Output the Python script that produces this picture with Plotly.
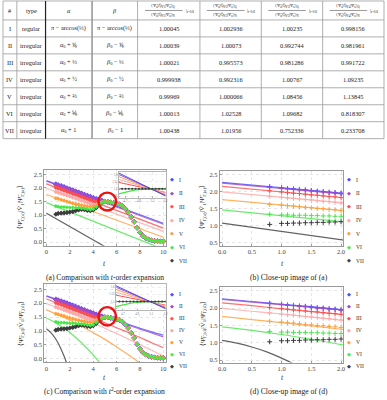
import plotly.graph_objects as go

W, H = 387, 400
SERIF = "Liberation Serif"

# ---------------- table data ----------------
row_ids = ["I", "II", "III", "IV", "V", "VI", "VII"]
row_types = ["regular", "irregular", "irregular", "irregular", "irregular", "irregular", "irregular"]
alpha_vals = ["π − arccos(⅓)", "<i>α</i><sub>0</sub> + ⅙", "<i>α</i><sub>0</sub> + ⅓", "<i>α</i><sub>0</sub> + ½",
              "<i>α</i><sub>0</sub> + ⅔", "<i>α</i><sub>0</sub> + ⅚", "<i>α</i><sub>0</sub> + 1"]
beta_vals = ["π − arccos(⅓)", "<i>β</i><sub>0</sub> − ⅙", "<i>β</i><sub>0</sub> − ⅓", "<i>β</i><sub>0</sub> − ½",
             "<i>β</i><sub>0</sub> − ⅔", "<i>β</i><sub>0</sub> − ⅚", "<i>β</i><sub>0</sub> − 1"]
ratio_1 = ["1.00045", "1.00039", "1.00021", "0.999938", "0.99969", "1.00013", "1.00438"]
ratio_2 = ["1.002936", "1.00073", "0.995573", "0.992316", "1.000066", "1.02528", "1.01956"]
ratio_3 = ["1.00235", "0.992744", "0.981286", "1.00767", "1.08456", "1.09682", "0.752336"]
ratio_4 = ["0.998156", "0.981961", "0.991722", "1.09235", "1.13845", "0.818307", "0.233708"]
header_simple = ["#", "type", "<i>α</i>", "<i>β</i>"]
header_num = ["⟨Ψ̃<sub>a</sub>|Q̂<sub>V1</sub>|Ψ̃<sub>a</sub>⟩<sub>Q</sub>",
              "⟨Ψ̃<sub>a</sub>|Q̂<sub>V2</sub>|Ψ̃<sub>a</sub>⟩<sub>Q</sub>",
              "⟨Ψ̃<sub>a</sub>|Q̂<sub>V3</sub>|Ψ̃<sub>a</sub>⟩<sub>Q</sub>",
              "⟨Ψ̃<sub>a</sub>|Q̂<sub>V4</sub>|Ψ̃<sub>a</sub>⟩<sub>Q</sub>"]
header_den = ["⟨Ψ̃<sub>a</sub>|Q̂<sub>V1</sub>|Ψ̃<sub>a</sub>⟩<sub>N</sub>",
              "⟨Ψ̃<sub>a</sub>|Q̂<sub>V2</sub>|Ψ̃<sub>a</sub>⟩<sub>N</sub>",
              "⟨Ψ̃<sub>a</sub>|Q̂<sub>V3</sub>|Ψ̃<sub>a</sub>⟩<sub>N</sub>",
              "⟨Ψ̃<sub>a</sub>|Q̂<sub>V4</sub>|Ψ̃<sub>a</sub>⟩<sub>N</sub>"]
header_eval = "|<sub><i>t</i>=0.8</sub>"

# ---------------- series styling ----------------
colors = ["#4b4bff", "#a24cc6", "#ff4d4d", "#ffa8a8", "#ffa03c", "#45e845", "#3c3c3c"]

# ---------------- t-order (linear) expansion lines ----------------
t_line = [0, 10]
line_I = [2.27, 0.70]
line_II = [2.25, 0.66]
line_III = [2.15, 0.52]
line_IV = [1.99, 0.40]
line_V = [1.76, 0.18]
line_VI = [1.46, -0.26]
line_VII = [1.07, -1.40]
lines_lin = [line_I, line_II, line_III, line_IV, line_V, line_VI, line_VII]

# ---------------- t^2-order expansion curves ----------------
t_quad = [0, 0.5, 1, 1.5, 2, 3, 4, 5, 6, 7, 8, 9, 10]
quad_I = [2.27, 2.19, 2.11, 2.04, 1.96, 1.81, 1.66, 1.52, 1.38, 1.24, 1.10, 0.97, 0.85]
quad_II = [2.25, 2.17, 2.10, 2.02, 1.95, 1.80, 1.65, 1.50, 1.36, 1.21, 1.07, 0.93, 0.79]
quad_III = [2.15, 2.07, 1.98, 1.90, 1.82, 1.65, 1.47, 1.30, 1.12, 0.95, 0.77, 0.58, 0.40]
quad_IV = [1.99, 1.91, 1.83, 1.74, 1.65, 1.48, 1.29, 1.10, 0.91, 0.71, 0.51, 0.31, 0.10]
quad_V = [1.76, 1.67, 1.58, 1.49, 1.39, 1.17, 0.94, 0.70, 0.43, 0.15, -0.15]
quad_VI = [1.46, 1.36, 1.24, 1.10, 0.95, 0.58, 0.14, -0.38]
t_quad_VII = [0, 0.25, 0.5, 0.75, 1.0, 1.25, 1.5, 1.75]
quad_VII = [1.07, 0.99, 0.88, 0.74, 0.56, 0.35, 0.10, -0.18]
quads = [quad_I, quad_II, quad_III, quad_IV, quad_V, quad_VI, quad_VII]

# ---------------- exact values (markers), full range ----------------
t_head = [0.8, 1.0, 1.25, 1.5, 1.75, 2.0, 2.25, 2.5, 2.75, 3.0, 3.25, 3.5, 3.75, 4.0, 4.25, 4.5, 4.75]
head_I = [2.14, 2.11, 2.08, 2.04, 2.00, 1.96, 1.92, 1.88, 1.84, 1.80, 1.76, 1.72, 1.68, 1.64, 1.60, 1.56, 1.53]
head_II = [2.13, 2.10, 2.06, 2.02, 1.98, 1.94, 1.90, 1.86, 1.82, 1.78, 1.74, 1.70, 1.66, 1.62, 1.58, 1.55, 1.52]
head_III = [2.02, 1.99, 1.95, 1.91, 1.87, 1.83, 1.79, 1.75, 1.71, 1.67, 1.63, 1.59, 1.55, 1.51, 1.48, 1.47, 1.48]
head_IV = [1.86, 1.83, 1.80, 1.76, 1.73, 1.69, 1.65, 1.62, 1.58, 1.54, 1.50, 1.46, 1.42, 1.39, 1.39, 1.42, 1.47]
head_V = [1.62, 1.60, 1.57, 1.54, 1.50, 1.47, 1.44, 1.41, 1.39, 1.36, 1.34, 1.32, 1.31, 1.32, 1.35, 1.40, 1.46]
head_VI = [1.33, 1.31, 1.30, 1.30, 1.29, 1.28, 1.28, 1.27, 1.26, 1.25, 1.24, 1.22, 1.20, 1.22, 1.30, 1.40, 1.46]
head_VII = [1.03, 1.06, 1.07, 1.08, 1.09, 1.11, 1.13, 1.16, 1.19, 1.21, 1.20, 1.17, 1.16, 1.19, 1.27, 1.37, 1.45]
heads = [head_I, head_II, head_III, head_IV, head_V, head_VI, head_VII]
t_tail = [5.0, 5.25, 5.5, 5.75, 6.0, 6.25, 6.5, 6.75, 7.0, 7.25, 7.5, 7.75, 8.0, 8.25, 8.5, 8.75, 9.0, 9.25, 9.5, 9.75, 10.0]
tail_common = [1.50, 1.49, 1.47, 1.45, 1.43, 1.40, 1.33, 1.23, 1.10, 0.93, 0.75, 0.53, 0.36, 0.23, 0.15, 0.10, 0.07, 0.05, 0.04, 0.03, 0.03]

# ---------------- exact values (markers), close-up ----------------
t_close = [0.8, 1.0, 1.1, 1.2, 1.3, 1.4, 1.5, 1.6, 1.7, 1.8, 1.9, 2.0]
close_I = [2.14, 2.11, 2.09, 2.08, 2.06, 2.05, 2.03, 2.01, 2.00, 1.98, 1.97, 1.95]
close_II = [2.13, 2.10, 2.08, 2.07, 2.05, 2.04, 2.02, 2.00, 1.99, 1.97, 1.96, 1.94]
close_III = [2.02, 1.99, 1.97, 1.95, 1.94, 1.92, 1.90, 1.89, 1.87, 1.85, 1.84, 1.82]
close_IV = [1.86, 1.83, 1.81, 1.80, 1.78, 1.76, 1.75, 1.73, 1.71, 1.70, 1.68, 1.66]
close_V = [1.62, 1.60, 1.58, 1.57, 1.55, 1.53, 1.52, 1.50, 1.49, 1.47, 1.46, 1.44]
close_VI = [1.33, 1.31, 1.31, 1.30, 1.30, 1.30, 1.29, 1.29, 1.28, 1.28, 1.27, 1.27]
close_VII = [1.03, 1.06, 1.06, 1.07, 1.07, 1.08, 1.08, 1.09, 1.09, 1.10, 1.10, 1.11]
closes = [close_I, close_II, close_III, close_IV, close_V, close_VI, close_VII]

# ---------------- inset data (zoom around crossing) ----------------
t_inset = [4.6, 5.3]
inset_lines = {
    "I": [1.61, 1.45],
    "II": [1.60, 1.455],
    "V": [1.585, 1.46],
    "IV": [1.565, 1.47],
    "III": [1.545, 1.475],
}
t_inset_pts = [4.6, 4.65, 4.7, 4.75, 4.8, 4.85, 4.9, 4.95, 5.0, 5.05, 5.1, 5.15, 5.2, 5.25, 5.3]
inset_VII = [1.50, 1.50, 1.50, 1.50, 1.50, 1.50, 1.50, 1.50, 1.50, 1.50, 1.50, 1.50, 1.50, 1.50, 1.50]
inset_VI = [1.465, 1.472, 1.479, 1.484, 1.488, 1.492, 1.495, 1.497, 1.498, 1.499, 1.50, 1.50, 1.50, 1.50, 1.50]


def px_x(p):
    return p / W


def px_y(p):
    return 1 - p / H


fig = go.Figure()
annotations = []
shapes = []

# ---------------- table (drawn with shapes + text) ----------------
col_edges = [1, 15, 44, 91, 137, 200, 262, 324, 386]
row_edges = [1, 20, 37, 54, 71, 88, 105, 122, 139]
for yb in row_edges:
    shapes.append(dict(type="line", xref="paper", yref="paper", x0=px_x(col_edges[0]), x1=px_x(col_edges[-1]),
                       y0=px_y(yb), y1=px_y(yb), line=dict(color="#9a9a9a", width=0.8), layer="above"))
for i, xb in enumerate(col_edges):
    if i == 2:
        ln = dict(color="#222222", width=1.2)
    elif i == 3:
        ln = dict(color="#9a9a9a", width=1.6)
    else:
        ln = dict(color="#9a9a9a", width=0.8)
    shapes.append(dict(type="line", xref="paper", yref="paper", x0=px_x(xb), x1=px_x(xb),
                       y0=px_y(row_edges[0]), y1=px_y(row_edges[-1]), line=ln, layer="above"))

cellfont = dict(family=SERIF, size=6.3, color="#222")
cols = [row_ids, row_types, alpha_vals, beta_vals, ratio_1, ratio_2, ratio_3, ratio_4]
for ci, col in enumerate(cols):
    xc = (col_edges[ci] + col_edges[ci + 1]) / 2
    for ri, val in enumerate(col):
        yc = (row_edges[ri + 1] + row_edges[ri + 2]) / 2
        annotations.append(dict(text=val, x=px_x(xc), y=px_y(yc), xref="paper", yref="paper",
                                showarrow=False, font=cellfont, xanchor="center", yanchor="middle"))
hy = (row_edges[0] + row_edges[1]) / 2
for ci, val in enumerate(header_simple):
    xc = (col_edges[ci] + col_edges[ci + 1]) / 2
    annotations.append(dict(text=val, x=px_x(xc), y=px_y(hy), xref="paper", yref="paper",
                            showarrow=False, font=cellfont, xanchor="center", yanchor="middle"))
fracfont = dict(family=SERIF, size=4.3, color="#222")
for j in range(4):
    ci = 4 + j
    xc = (col_edges[ci] + col_edges[ci + 1]) / 2 - 5
    annotations.append(dict(text=header_num[j], x=px_x(xc), y=px_y(hy - 4.2), xref="paper", yref="paper",
                            showarrow=False, font=fracfont, xanchor="center", yanchor="middle"))
    annotations.append(dict(text=header_den[j], x=px_x(xc), y=px_y(hy + 4.4), xref="paper", yref="paper",
                            showarrow=False, font=fracfont, xanchor="center", yanchor="middle"))
    annotations.append(dict(text=header_eval, x=px_x(xc + 20), y=px_y(hy + 1), xref="paper", yref="paper",
                            showarrow=False, font=dict(family=SERIF, size=4.8, color="#222"),
                            xanchor="left", yanchor="middle"))
    shapes.append(dict(type="line", xref="paper", yref="paper", x0=px_x(xc - 19), x1=px_x(xc + 19),
                       y0=px_y(hy), y1=px_y(hy), line=dict(color="#333", width=0.5)))

names = row_ids
# marker drawing order: VII at the bottom, then I..VI (smaller on top) so the tail stays colourful
marker_order = [6, 0, 1, 2, 3, 4, 5]
marker_sizes = [4.4, 4.1, 3.8, 3.6, 3.4, 3.2, 4.0]


# ---------------- panels ----------------
def add_panel(xa, ya, kind, close):
    for k in range(7):
        c = colors[k]
        if kind == "lin":
            fig.add_trace(go.Scatter(x=t_line, y=lines_lin[k], mode="lines", xaxis=xa, yaxis=ya,
                                     line=dict(color=c, width=1.2), opacity=0.8, showlegend=False,
                                     hoverinfo="skip"))
        else:
            tq = t_quad_VII if k == 6 else t_quad[:len(quads[k])]
            fig.add_trace(go.Scatter(x=tq, y=quads[k], mode="lines", xaxis=xa, yaxis=ya,
                                     line=dict(color=c, width=1.2, shape="spline"), opacity=0.8,
                                     showlegend=False, hoverinfo="skip"))
    for k in (range(7) if close else marker_order):
        c = colors[k]
        if close:
            fig.add_trace(go.Scatter(x=t_close, y=closes[k], mode="markers", xaxis=xa, yaxis=ya,
                                     marker=dict(color=c, size=3.6, symbol="cross-thin",
                                                 line=dict(color=c, width=1.0)),
                                     showlegend=False, hoverinfo="skip"))
        else:
            fig.add_trace(go.Scatter(x=t_head + t_tail, y=heads[k] + tail_common, mode="markers",
                                     xaxis=xa, yaxis=ya,
                                     marker=dict(color=c, size=marker_sizes[k], symbol="diamond"),
                                     showlegend=False, hoverinfo="skip"))


add_panel("x", "y", "lin", False)
add_panel("x2", "y2", "lin", True)
add_panel("x3", "y3", "quad", False)
add_panel("x4", "y4", "quad", True)

# insets
inset_order = ["III", "IV", "V", "II", "I"]
for xa, ya in [("x5", "y5"), ("x6", "y6")]:
    for nm in inset_order:
        fig.add_trace(go.Scatter(x=t_inset, y=inset_lines[nm], mode="lines", xaxis=xa, yaxis=ya,
                                 line=dict(color=colors[row_ids.index(nm)], width=1.0),
                                 showlegend=False, hoverinfo="skip"))
    fig.add_trace(go.Scatter(x=t_inset_pts, y=inset_VI, mode="lines", xaxis=xa, yaxis=ya,
                             line=dict(color=colors[5], width=1.2), showlegend=False, hoverinfo="skip"))
    fig.add_trace(go.Scatter(x=t_inset_pts, y=inset_VII, mode="lines+markers", xaxis=xa, yaxis=ya,
                             line=dict(color=colors[6], width=0.8),
                             marker=dict(color=colors[6], size=2), showlegend=False, hoverinfo="skip"))

# ---------------- axes ----------------
tickfont = dict(family=SERIF, size=6.5, color="#444")
common = dict(showline=True, mirror=True, linecolor="#9a9a9a", linewidth=0.8, ticks="inside",
              ticklen=2, tickcolor="#9a9a9a", tickfont=tickfont, showgrid=True,
              gridcolor="#e6e6e6", griddash="dot", zeroline=False)

layout_axes = dict(
    xaxis=dict(domain=[px_x(42.6), px_x(165.4)], range=[-0.2, 10.2], anchor="y",
               tickvals=[0, 2, 4, 6, 8, 10], **common),
    yaxis=dict(domain=[px_y(246.3), px_y(170)], range=[-0.13, 2.68], anchor="x",
               tickvals=[0, 0.5, 1, 1.5, 2, 2.5], tickformat=".1f", **common),
    xaxis2=dict(domain=[px_x(220), px_x(345)], range=[-0.04, 2.04], anchor="y2",
                tickvals=[0, 0.5, 1, 1.5, 2], tickformat=".1f", **common),
    yaxis2=dict(domain=[px_y(246.4), px_y(171.6)], range=[0.4, 2.6], anchor="x2",
                tickvals=[0.5, 1, 1.5, 2, 2.5], tickformat=".1f", **common),
    xaxis3=dict(domain=[px_x(42.6), px_x(165.4)], range=[-0.2, 10.2], anchor="y3",
                tickvals=[0, 2, 4, 6, 8, 10], **common),
    yaxis3=dict(domain=[px_y(363.4), px_y(285)], range=[-0.13, 2.68], anchor="x3",
                tickvals=[0, 0.5, 1, 1.5, 2, 2.5], tickformat=".1f", **common),
    xaxis4=dict(domain=[px_x(220), px_x(345)], range=[-0.04, 2.04], anchor="y4",
                tickvals=[0, 0.5, 1, 1.5, 2], tickformat=".1f", **common),
    yaxis4=dict(domain=[px_y(363.5), px_y(288)], range=[0.43, 2.6], anchor="x4",
                tickvals=[0.5, 1, 1.5, 2, 2.5], tickformat=".1f", **common),
)
inset_common = dict(showline=True, mirror=True, linecolor="#b5b5b5", linewidth=0.6, ticks="inside",
                    ticklen=1.5, tickcolor="#b5b5b5", tickfont=dict(family=SERIF, size=3, color="#777"),
                    showgrid=True, gridcolor="#eeeeee", griddash="dot", zeroline=False)
layout_axes.update(
    xaxis5=dict(domain=[px_x(118), px_x(165.4)], range=[4.6, 5.3], anchor="y5",
                tickvals=[4.7, 4.9, 5.1, 5.3], **inset_common),
    yaxis5=dict(domain=[px_y(198), px_y(172)], range=[1.44, 1.62], anchor="x5",
                tickvals=[1.45, 1.5, 1.55, 1.6], **inset_common),
    xaxis6=dict(domain=[px_x(115), px_x(165.4)], range=[4.6, 5.3], anchor="y6",
                tickvals=[4.7, 4.9, 5.1, 5.3], **inset_common),
    yaxis6=dict(domain=[px_y(311), px_y(285)], range=[1.44, 1.62], anchor="x6",
                tickvals=[1.45, 1.5, 1.55, 1.6], **inset_common),
)

capfont = dict(family=SERIF, size=7.6, color="#222")
annotations += [
    dict(text="(a) Comparison with <i>t</i>-order expansion", x=px_x(104), y=px_y(278), xref="paper",
         yref="paper", showarrow=False, font=capfont, xanchor="center", yanchor="middle"),
    dict(text="(b) Close-up image of (a)", x=px_x(290), y=px_y(278), xref="paper", yref="paper",
         showarrow=False, font=capfont, xanchor="center", yanchor="middle"),
    dict(text="(c) Comparison with <i>t</i><sup>2</sup>-order expansion", x=px_x(104), y=px_y(392),
         xref="paper", yref="paper", showarrow=False, font=capfont, xanchor="center", yanchor="middle"),
    dict(text="(d) Close-up image of (d)", x=px_x(290), y=px_y(392), xref="paper", yref="paper",
         showarrow=False, font=capfont, xanchor="center", yanchor="middle"),
]
tfont = dict(family=SERIF, size=7.5, color="#333")
for xc, yc in [(104, 264), (283, 264), (104, 378), (283, 378)]:
    annotations.append(dict(text="<i>t</i>", x=px_x(xc), y=px_y(yc), xref="paper", yref="paper",
                            showarrow=False, font=tfont, xanchor="center", yanchor="middle", borderpad=0))
ylab_a = "⟨Ψ̃<sub>Γ,(a)</sub>|V̂<sub>1</sub>|Ψ̃<sub>Γ,(a)</sub>⟩"
ylab_c = "⟨Ψ̃<sub>Γ,(d)</sub>|V̂<sub>1</sub>|Ψ̃<sub>Γ,(d)</sub>⟩"
for xc, yc, lab in [(19, 208, ylab_a), (203, 208, ylab_a), (19, 324, ylab_c), (203, 324, ylab_c)]:
    annotations.append(dict(text=lab, x=px_x(xc), y=px_y(yc), xref="paper", yref="paper",
                            showarrow=False, textangle=-90, font=dict(family=SERIF, size=7, color="#333"),
                            xanchor="center", yanchor="middle"))
# legends (marker glyph + label)
legfont = dict(family=SERIF, size=5.6, color="#333")
for x0, y0, step in [(172, 180, 13.6), (351, 180, 13.6), (172, 295, 12.0), (351, 295, 12.0)]:
    for k, nm in enumerate(names):
        annotations.append(dict(text="◆", x=px_x(x0), y=px_y(y0 + k * step), xref="paper", yref="paper",
                                showarrow=False, font=dict(family=SERIF, size=5, color=colors[k]),
                                xanchor="center", yanchor="middle", borderpad=0))
        annotations.append(dict(text=nm, x=px_x(x0 + 6), y=px_y(y0 + k * step), xref="paper", yref="paper",
                                showarrow=False, font=legfont, xanchor="left", yanchor="middle", borderpad=0))

shapes += [
    dict(type="circle", xref="x", yref="y", x0=4.45, x1=5.95, y0=1.17, y1=1.83,
         line=dict(color="#ee1111", width=2.4)),
    dict(type="circle", xref="x3", yref="y3", x0=4.45, x1=5.95, y0=1.20, y1=1.86,
         line=dict(color="#ee1111", width=2.4)),
]

fig.update_layout(width=W, height=H, margin=dict(l=0, r=0, t=0, b=0),
                  paper_bgcolor="white", plot_bgcolor="white", showlegend=False,
                  annotations=annotations, shapes=shapes, **layout_axes)

fig.write_html("out.html", config={"displayModeBar": False},
               post_script="document.body.style.margin='0';document.body.style.overflow='hidden';")
